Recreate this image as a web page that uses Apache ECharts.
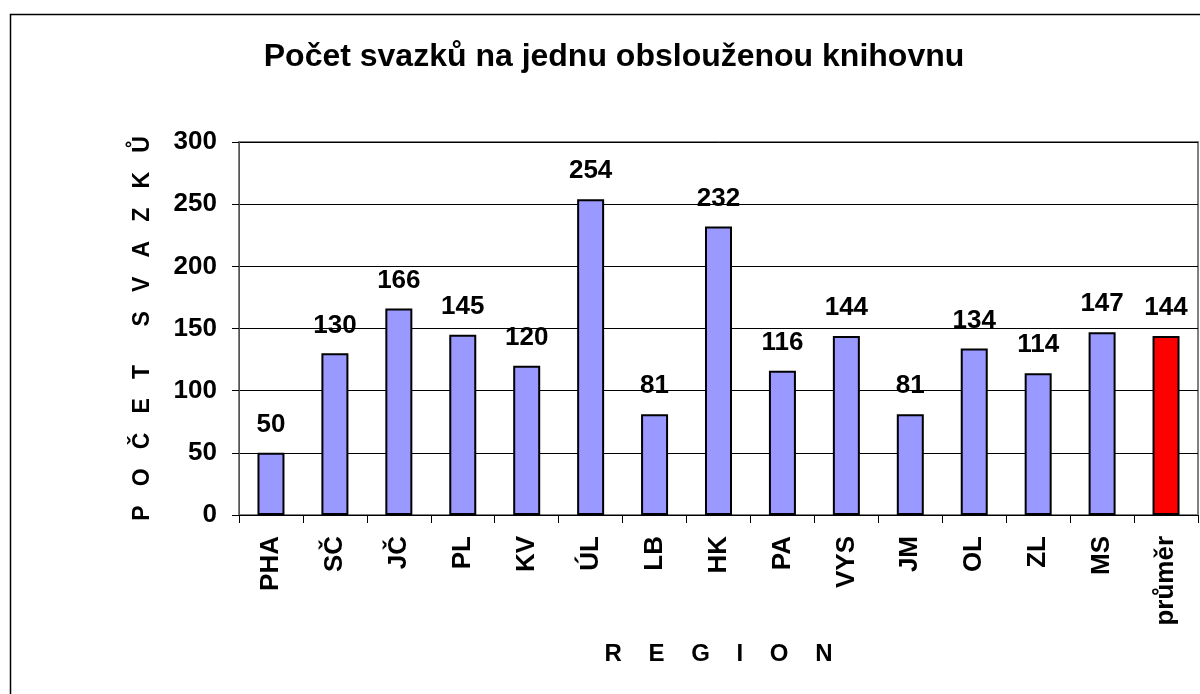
<!DOCTYPE html>
<html>
<head>
<meta charset="utf-8">
<script src="https://cdn.jsdelivr.net/npm/echarts@6/dist/echarts.min.js"></script>
<style>
  html, body { margin: 0; padding: 0; background: #fff; }
  #chart { width: 1200px; height: 694px; }
</style>
</head>
<body>
<div id="chart"></div>
<script>
const regions = ['PHA', 'SČ', 'JČ', 'PL', 'KV', 'ÚL', 'LB', 'HK', 'PA', 'VYS', 'JM', 'OL', 'ZL', 'MS', 'průměr']
const volumes = [50, 130, 166, 145, 120, 254, 81, 232, 116, 144, 81, 134, 114, 147, 144]
const averageLabel = 'průměr'
const yTicks = [0, 50, 100, 150, 200, 250, 300]

const FONT = '"Liberation Sans", Arial, sans-serif'
const BAR_BLUE = '#9999FF'
const BAR_RED = '#FF0000'

const chart = echarts.init(document.getElementById('chart'))

chart.setOption({
  animation: false,
  backgroundColor: '#fff',
  textStyle: { fontFamily: FONT, color: '#000' },
  title: {
    text: 'Počet svazků na jednu obslouženou knihovnu',
    left: 609,
    top: 36,
    textAlign: 'center',
    textStyle: { fontFamily: FONT, fontSize: 32, fontWeight: 'bold', color: '#000' }
  },
  graphic: [
    {
      type: 'rect',
      left: 8,
      top: 12,
      shape: { width: 1220, height: 720 },
      style: { fill: 'none', stroke: '#000', lineWidth: 1.5 },
      silent: true
    }
  ],
  grid: {
    left: 239,
    top: 142,
    right: 2,
    bottom: 179,
    show: true,
    borderColor: '#808080',
    borderWidth: 2,
    containLabel: false
  },
  xAxis: {
    type: 'category',
    data: regions,
    name: 'R    E    G    I    O    N',
    nameLocation: 'middle',
    nameGap: 127,
    nameTextStyle: { fontFamily: FONT, fontSize: 24, fontWeight: 'bold', color: '#000' },
    axisLine: { lineStyle: { color: '#000', width: 1 } },
    axisTick: { show: true, length: 8, lineStyle: { color: '#000' } },
    axisLabel: {
      rotate: 90,
      margin: 21,
      interval: 0,
      fontFamily: FONT,
      fontSize: 26,
      fontWeight: 'bold',
      color: '#000'
    }
  },
  yAxis: {
    type: 'value',
    min: yTicks[0],
    max: yTicks[yTicks.length - 1],
    interval: 50,
    name: 'P   O   Č   E   T      S   V   A   Z   K   Ů',
    nameLocation: 'middle',
    nameRotate: 90,
    nameGap: 85,
    nameTextStyle: { fontFamily: FONT, fontSize: 23, fontWeight: 'bold', color: '#000' },
    axisLine: { show: true, lineStyle: { color: '#555', width: 1 } },
    axisTick: { show: true, length: 7, lineStyle: { color: '#000' } },
    axisLabel: {
      margin: 22,
      fontFamily: FONT,
      fontSize: 26,
      fontWeight: 'bold',
      color: '#000'
    },
    splitLine: { lineStyle: { color: '#000', width: 1 } }
  },
  series: [
    {
      type: 'bar',
      data: volumes,
      barWidth: 27,
      itemStyle: {
        color: params => (params.name === averageLabel ? BAR_RED : BAR_BLUE),
        borderColor: '#000',
        borderWidth: 2
      },
      label: {
        show: true,
        position: 'top',
        distance: 15,
        fontFamily: FONT,
        fontSize: 26,
        fontWeight: 'bold',
        color: '#000'
      }
    }
  ]
})
</script>
</body>
</html>
